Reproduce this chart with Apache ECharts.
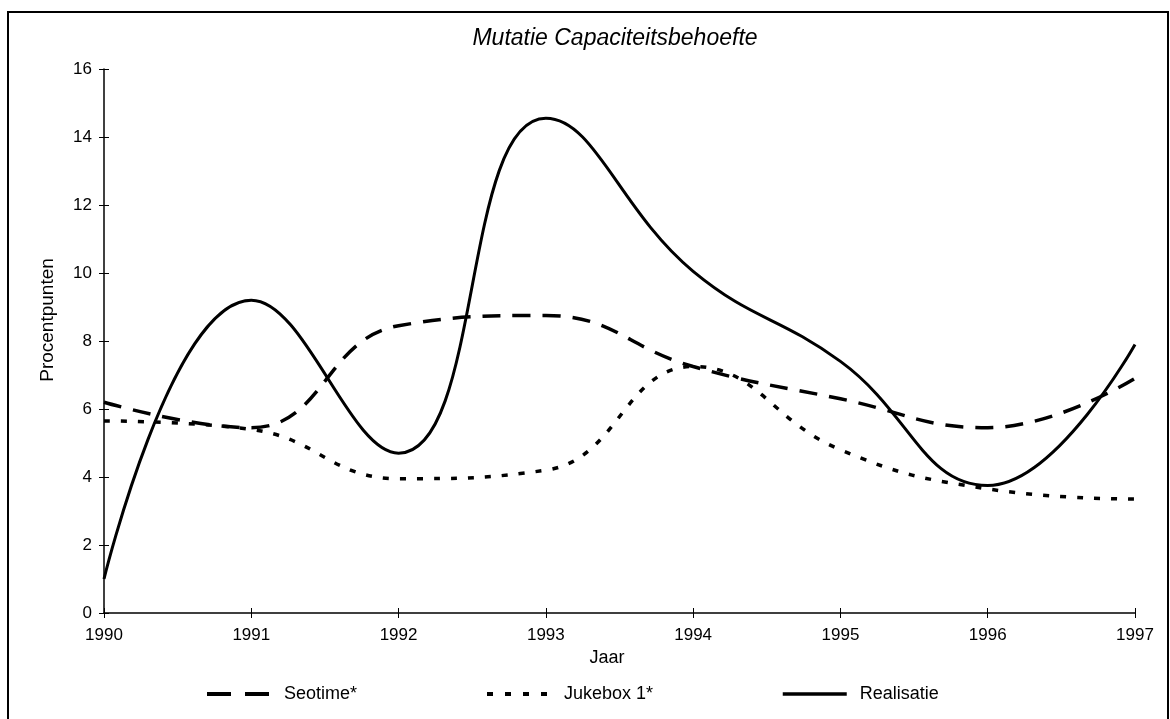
<!doctype html>
<html>
<head>
    <meta charset="utf-8">
    <title>Mutatie Capaciteitsbehoefte</title>
    <script src="https://cdn.jsdelivr.net/npm/echarts@6/dist/echarts.min.js"></script>
    <style>
        html, body { margin: 0; padding: 0; background: #fff; }
    </style>
</head>
<body>

    <div id="main" style="width:1170px;height:719px;"></div>

    <script type="text/javascript">
        // years on the x axis
        var years = ['1990', '1991', '1992', '1993', '1994', '1995', '1996', '1997'];

        // values (procentpunten)
        var seotime    = [6.2, 5.45, 8.45, 8.75, 7.25, 6.3, 5.45, 6.9];
        var jukebox    = [5.65, 5.4, 3.95, 4.2, 7.25, 4.8, 3.65, 3.35];
        var realisatie = [1.0, 9.2, 4.7, 14.55, 10.05, 7.4, 3.75, 7.9];

        var font = 'Liberation Sans, Arial, sans-serif';

        var chart = echarts.init(document.getElementById('main'));

        function lineSeries(name, values, type, width) {
            return {
                name: name,
                type: 'line',
                data: values,
                smooth: 0.45,
                symbol: 'none',
                lineStyle: { color: '#000', width: width, type: type, cap: 'butt' },
                itemStyle: { color: '#000' }
            };
        }

        // one legend per item so each can sit where the original has it
        function legendAt(left, name, dash, width) {
            return {
                data: [name],
                left: left,
                top: 680,
                itemWidth: 64,
                itemHeight: 8,
                itemStyle: { opacity: 0 },
                lineStyle: { color: '#000', width: width, type: dash, cap: 'butt' },
                textStyle: { fontFamily: font, fontSize: 18, color: '#000', padding: [0, 0, 0, 8] },
                selectedMode: false
            };
        }

        var option = {
            animation: false,
            title: {
                text: 'Mutatie Capaciteitsbehoefte',
                left: 610,
                textAlign: 'center',
                top: 22,
                textStyle: { fontFamily: font, fontSize: 23, fontStyle: 'italic', fontWeight: 'normal', color: '#000' }
            },
            legend: [
                legendAt(200, 'Seotime*', [24, 14], 4),
                legendAt(480, 'Jukebox 1*', [6, 12], 4),
                legendAt(776, 'Realisatie', 'solid', 3.5)
            ],
            grid: { left: 104, right: 35, top: 69, bottom: 106 },
            xAxis: [{
                type: 'category',
                data: years,
                boundaryGap: false,
                name: 'Jaar',
                nameLocation: 'middle',
                nameGap: 35,
                nameTextStyle: { fontFamily: font, fontSize: 18, color: '#000', padding: [0, 25, 0, 0] },
                axisLine: { lineStyle: { color: '#000', width: 1.5 } },
                axisTick: { alignWithLabel: true, length: 5, lineStyle: { color: '#000' } },
                axisLabel: { fontFamily: font, fontSize: 17, color: '#000', margin: 14 },
                splitLine: { show: false }
            }, {
                type: 'category',
                data: years,
                boundaryGap: false,
                position: 'bottom',
                axisLine: { show: false },
                axisTick: { inside: true, length: 5, lineStyle: { color: '#000' } },
                axisLabel: { show: false },
                splitLine: { show: false }
            }],
            yAxis: [{
                type: 'value',
                min: 0,
                max: 16,
                interval: 2,
                axisLine: { show: true, lineStyle: { color: '#000', width: 1.5 } },
                axisTick: { show: true, length: 5, lineStyle: { color: '#000' } },
                axisLabel: { fontFamily: font, fontSize: 17, color: '#000', margin: 12 },
                splitLine: { show: false }
            }, {
                type: 'value',
                min: 0,
                max: 16,
                interval: 2,
                position: 'left',
                axisLine: { show: false },
                axisTick: { show: true, inside: true, length: 5, lineStyle: { color: '#000' } },
                axisLabel: { show: false },
                splitLine: { show: false }
            }],
            graphic: [{
                type: 'rect',
                shape: { x: 8, y: 12, width: 1160, height: 720 },
                style: { fill: 'none', stroke: '#000', lineWidth: 2 }
            }, {
                type: 'text',
                x: 48,
                y: 320,
                rotation: Math.PI / 2,
                style: {
                    text: 'Procentpunten',
                    fontFamily: font,
                    fontSize: 19,
                    fill: '#000',
                    textAlign: 'center',
                    textVerticalAlign: 'middle'
                }
            }],
            series: [
                lineSeries('Seotime*', seotime, [18, 12], 3.5),
                lineSeries('Jukebox 1*', jukebox, [6, 11], 3.5),
                lineSeries('Realisatie', realisatie, 'solid', 3)
            ]
        };

        chart.setOption(option);
    </script>
</body>
</html>
